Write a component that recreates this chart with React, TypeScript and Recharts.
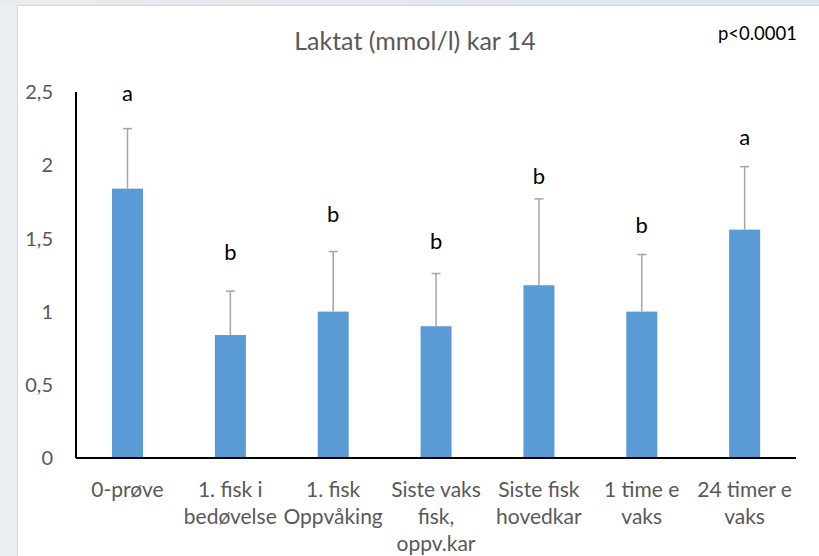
import { BarChart, Bar, XAxis, YAxis } from 'recharts';

// Laktat kar 14 – gjennomsnitt, SD og signifikansbokstaver
const categories = [
  '0-prøve',
  '1. fisk i\nbedøvelse',
  '1. fisk\nOppvåking',
  'Siste vaks\nfisk,\noppv.kar',
  'Siste fisk\nhovedkar',
  '1 time e\nvaks',
  '24 timer e\nvaks',
];
const means = [1.84, 0.84, 1.0, 0.9, 1.18, 1.0, 1.56];
const sds = [0.41, 0.3, 0.41, 0.36, 0.59, 0.39, 0.43];
const letters = ['a', 'b', 'b', 'b', 'b', 'b', 'a'];
const letterLevels = [2.44, 1.35, 1.61, 1.43, 1.87, 1.54, 2.14];
const yTicks = [0, 0.5, 1, 1.5, 2, 2.5];

const data = categories.map((label, i) => ({
  label,
  mean: means[i],
  sd: sds[i],
  letter: letters[i],
  letterAt: letterLevels[i],
}));

const FONT = 'Lato, "Open Sans", sans-serif';
const GREY_TEXT = '#595959';

const BarWithError = (props: any) => {
  const { x, y, width, height, payload } = props;
  if (!payload || !height) return null;
  const perUnit = height / payload.mean;
  const base = y + height;
  const cx = x + width / 2;
  const errTop = y - payload.sd * perUnit;
  return (
    <g>
      <rect x={x} y={y} width={width} height={height} fill="#5b9bd5" />
      <line x1={cx} x2={cx} y1={y} y2={errTop} stroke="#a5a5a5" strokeWidth={1.5} />
      <line x1={cx - 4.5} x2={cx + 4.5} y1={errTop} y2={errTop} stroke="#a5a5a5" strokeWidth={1.5} />
      <text
        x={cx}
        y={base - payload.letterAt * perUnit}
        textAnchor="middle"
        fill="#000"
        fontSize={22}
        fontFamily={FONT}
      >
        {payload.letter}
      </text>
    </g>
  );
};

const CategoryTick = ({ x, y, payload }: any) => {
  const lines = String(payload.value).split('\n');
  return (
    <text x={x} y={y} textAnchor="middle" fill={GREY_TEXT} fontSize={21} fontFamily={FONT}>
      {lines.map((ln, i) => (
        <tspan key={i} x={x} dy={i === 0 ? 39 : 27}>
          {ln}
        </tspan>
      ))}
    </text>
  );
};

export default function App() {
  return (
    <div
      style={{
        position: 'absolute',
        left: 0,
        top: 0,
        width: 819,
        height: 556,
        overflow: 'hidden',
        background: 'linear-gradient(90deg, #eceff2 0%, #eef1f4 100%)',
      }}
    >
      <div
        style={{
          position: 'absolute',
          left: 0,
          top: 0,
          width: 819,
          height: 5,
          background: 'linear-gradient(90deg, #e9ecef 0%, #dfe5eb 100%)',
        }}
      />
      <div
        style={{
          position: 'absolute',
          left: 17,
          top: 5,
          width: 802,
          height: 551,
          background: '#fff',
          borderLeft: '1px solid #d6d6d6',
          borderTop: '1px solid #d6d6d6',
          boxSizing: 'border-box',
        }}
      />
      <div style={{ position: 'absolute', left: 0, top: 0 }}>
        <BarChart
          width={819}
          height={556}
          data={data}
          margin={{ top: 92, right: 23, bottom: 0, left: 0 }}
        >
          <XAxis
            dataKey="label"
            axisLine={{ stroke: '#000', strokeWidth: 2 }}
            tickLine={false}
            tickSize={0}
            tickMargin={0}
            interval={0}
            tick={<CategoryTick />}
            height={98}
          />
          <YAxis
            domain={[0, 2.5]}
            ticks={yTicks}
            width={76}
            axisLine={{ stroke: '#000', strokeWidth: 2 }}
            tickLine={false}
            tickSize={0}
            tickMargin={23}
            tickFormatter={(v: number) => String(v).replace('.', ',')}
            tick={{ fill: GREY_TEXT, fontSize: 20, fontFamily: FONT }}
          />
          <Bar dataKey="mean" barSize={31} shape={<BarWithError />} isAnimationActive={false} />
        </BarChart>
      </div>
      <svg
        width={819}
        height={556}
        style={{ position: 'absolute', left: 0, top: 0, pointerEvents: 'none' }}
      >
        <text x={415} y={50} textAnchor="middle" fill={GREY_TEXT} fontSize={25} fontFamily={FONT}>
          Laktat (mmol/l) kar 14
        </text>
        <text x={797} y={40} textAnchor="end" fill="#000" fontSize={18.5} fontFamily={FONT}>
          p&lt;0.0001
        </text>
      </svg>
    </div>
  );
}
